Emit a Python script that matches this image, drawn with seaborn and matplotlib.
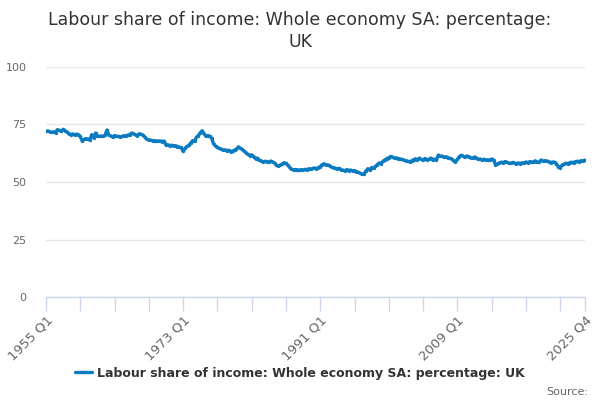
"""
Labour share of income, whole economy, UK (quarterly, SA).
Single line chart in the ONS/Highcharts look.
"""

import pandas as pd
import matplotlib
matplotlib.use("Agg")
import matplotlib.pyplot as plt
import seaborn as sns


# ──────────────────────────────────────────────
# Data
# ──────────────────────────────────────────────

first_year = 1955
last_year = 2025

labour_share = [
    72.0, 72.2, 71.9, 71.6,  # 1955
    71.8, 71.5, 72.8, 72.4,  # 1956
    72.0, 72.9, 72.3, 71.8,  # 1957
    71.0, 70.6, 70.9, 70.5,  # 1958
    70.8, 70.6, 69.8, 67.8,  # 1959
    68.5, 68.9, 68.6, 68.4,  # 1960
    70.6, 69.2, 71.3, 70.1,  # 1961
    69.8, 70.0, 69.9, 70.3,  # 1962
    72.6, 70.4, 70.0, 69.6,  # 1963
    70.2, 69.8, 69.9, 69.5,  # 1964
    69.9, 70.1, 70.0, 70.4,  # 1965
    70.6, 71.3, 71.0, 70.5,  # 1966
    70.2, 71.0, 70.7, 70.3,  # 1967
    69.4, 68.5, 68.3, 68.2,  # 1968
    67.9, 68.0, 67.8, 67.8,  # 1969
    67.9, 67.6, 67.8, 66.0,  # 1970
    66.2, 65.8, 66.0, 65.7,  # 1971
    65.8, 65.4, 65.1, 65.0,  # 1972
    63.3, 64.6, 65.5, 65.9,  # 1973
    67.0, 68.0, 67.7, 69.5,  # 1974
    70.2, 71.4, 72.3, 71.0,  # 1975
    69.8, 70.2, 69.9, 69.0,  # 1976
    66.5, 65.6, 65.0, 64.6,  # 1977
    64.3, 63.9, 64.0, 63.6,  # 1978
    63.8, 63.2, 63.4, 63.9,  # 1979
    64.3, 65.3, 64.7, 64.2,  # 1980
    63.4, 62.8, 62.0, 61.5,  # 1981
    61.8, 61.0, 60.2, 60.4,  # 1982
    59.5, 59.2, 58.8, 59.0,  # 1983
    58.9, 58.6, 59.1, 58.7,  # 1984
    58.2, 57.3, 56.9, 57.4,  # 1985
    57.8, 58.4, 58.1, 57.2,  # 1986
    56.3, 55.5, 55.2, 55.4,  # 1987
    55.3, 55.1, 55.4, 55.2,  # 1988
    55.5, 55.3, 55.8, 55.6,  # 1989
    55.9, 56.1, 55.8, 56.3,  # 1990
    56.7, 57.6, 57.9, 57.5,  # 1991
    57.4, 57.1, 56.4, 56.2,  # 1992
    56.0, 55.7, 55.9, 55.3,  # 1993
    55.1, 54.9, 55.4, 55.0,  # 1994
    55.2, 54.8, 55.0, 54.5,  # 1995
    54.2, 53.8, 53.3, 53.6,  # 1996
    54.8, 55.8, 55.2, 56.3,  # 1997
    56.0, 56.8, 57.6, 58.3,  # 1998
    58.0, 59.1, 59.6, 60.2,  # 1999
    60.6, 61.1, 60.7, 60.4,  # 2000
    60.5, 60.2, 60.0, 59.8,  # 2001
    59.5, 59.3, 59.0, 58.8,  # 2002
    59.2, 59.7, 60.1, 59.5,  # 2003
    60.4, 59.8, 59.6, 60.2,  # 2004
    59.7, 59.9, 60.4, 59.6,  # 2005
    60.0, 59.5, 61.7, 61.2,  # 2006
    61.3, 60.7, 61.0, 60.6,  # 2007
    60.3, 60.0, 59.2, 58.9,  # 2008
    59.8, 61.0, 61.6, 61.2,  # 2009
    60.7, 61.3, 61.0, 60.6,  # 2010
    60.3, 60.9, 60.4, 59.8,  # 2011
    60.0, 59.6, 59.9, 59.4,  # 2012
    59.7, 59.5, 60.0, 59.6,  # 2013
    57.5, 57.9, 58.3, 58.6,  # 2014
    58.4, 58.9, 58.6, 58.3,  # 2015
    58.1, 58.5, 58.2, 58.0,  # 2016
    58.3, 58.0, 58.4, 58.2,  # 2017
    58.7, 58.4, 58.9, 58.6,  # 2018
    58.9, 59.2, 58.5, 58.8,  # 2019
    59.6, 59.0, 59.3, 59.1,  # 2020
    58.9, 58.4, 58.7, 58.6,  # 2021
    57.9, 56.6, 56.3, 57.4,  # 2022
    57.8, 58.2, 57.9, 58.4,  # 2023
    58.6, 58.3, 58.9, 59.0,  # 2024
    58.8, 59.3, 59.1, 59.6,  # 2025
]

quarters = [f"{y} Q{q}" for y in range(first_year, last_year + 1) for q in range(1, 5)]

y_ticks = [0, 25, 50, 75, 100]
x_label_quarters = ["1955 Q1", "1973 Q1", "1991 Q1", "2009 Q1", "2025 Q4"]

series_name = "Labour share of income: Whole economy SA: percentage: UK"
title = "Labour share of income: Whole economy SA: percentage:\nUK"

df = pd.DataFrame({"quarter": quarters, "value": labour_share})
df["idx"] = range(len(df))


# ──────────────────────────────────────────────
# Plot
# ──────────────────────────────────────────────

sns.set_theme(style="white")
plt.rcParams["font.family"] = ["DejaVu Sans"]

line_color = "#0b7bc1"
grid_color = "#e6e6e6"
axis_color = "#ccd6eb"
label_color = "#666666"

fig = plt.figure(figsize=(6, 4), dpi=100)
ax = fig.add_axes([46 / 600, 103 / 400, 539 / 600, 230 / 400])

sns.lineplot(data=df, x="idx", y="value", ax=ax, color=line_color,
             linewidth=2.4, marker="o", markersize=2.4, markeredgewidth=0,
             label=series_name, legend=False)

ax.set_xlim(0, len(df) - 1)
ax.set_ylim(0, 100)
ax.set_xlabel("")
ax.set_ylabel("")

# y axis: gridlines only
ax.set_yticks(y_ticks)
ax.set_yticklabels([str(v) for v in y_ticks], color=label_color, fontsize=8)
ax.yaxis.grid(True, color=grid_color, linewidth=1)
ax.tick_params(axis="y", length=0, pad=14)

# x axis: a tick every 18 quarters plus the last quarter, labels on a few
last = len(df) - 1
tick_pos = list(range(0, last, 18)) + [last]
pos_lookup = dict(zip(df["quarter"], df["idx"]))
label_pos = {pos_lookup[q]: q for q in x_label_quarters}
ax.set_xticks(tick_pos)
ax.set_xticklabels([label_pos.get(p, "") for p in tick_pos],
                   rotation=45, ha="right", rotation_mode="anchor",
                   color=label_color, fontsize=9.5)
ax.tick_params(axis="x", length=10, width=1, color=axis_color, pad=2, direction="out")
ax.xaxis.set_ticks_position("bottom")

for side in ["top", "right", "left"]:
    ax.spines[side].set_visible(False)
ax.spines["bottom"].set_color(axis_color)
ax.spines["bottom"].set_linewidth(1)
ax.set_axisbelow(True)

fig.suptitle(title, fontsize=12.5, color="#333333", y=0.972, va="top", linespacing=1.25)

handles, labels = ax.get_legend_handles_labels()
leg = fig.legend(handles, labels, loc="center", bbox_to_anchor=(0.5, 27 / 400),
                 frameon=False, handlelength=1.4, handletextpad=0.4,
                 prop={"size": 9, "weight": "bold"})
for t in leg.get_texts():
    t.set_color("#333333")

fig.text(588 / 600, 8 / 400, "Source:", ha="right", va="center",
         fontsize=8, color=label_color)

fig.savefig("out.png", dpi=100)
